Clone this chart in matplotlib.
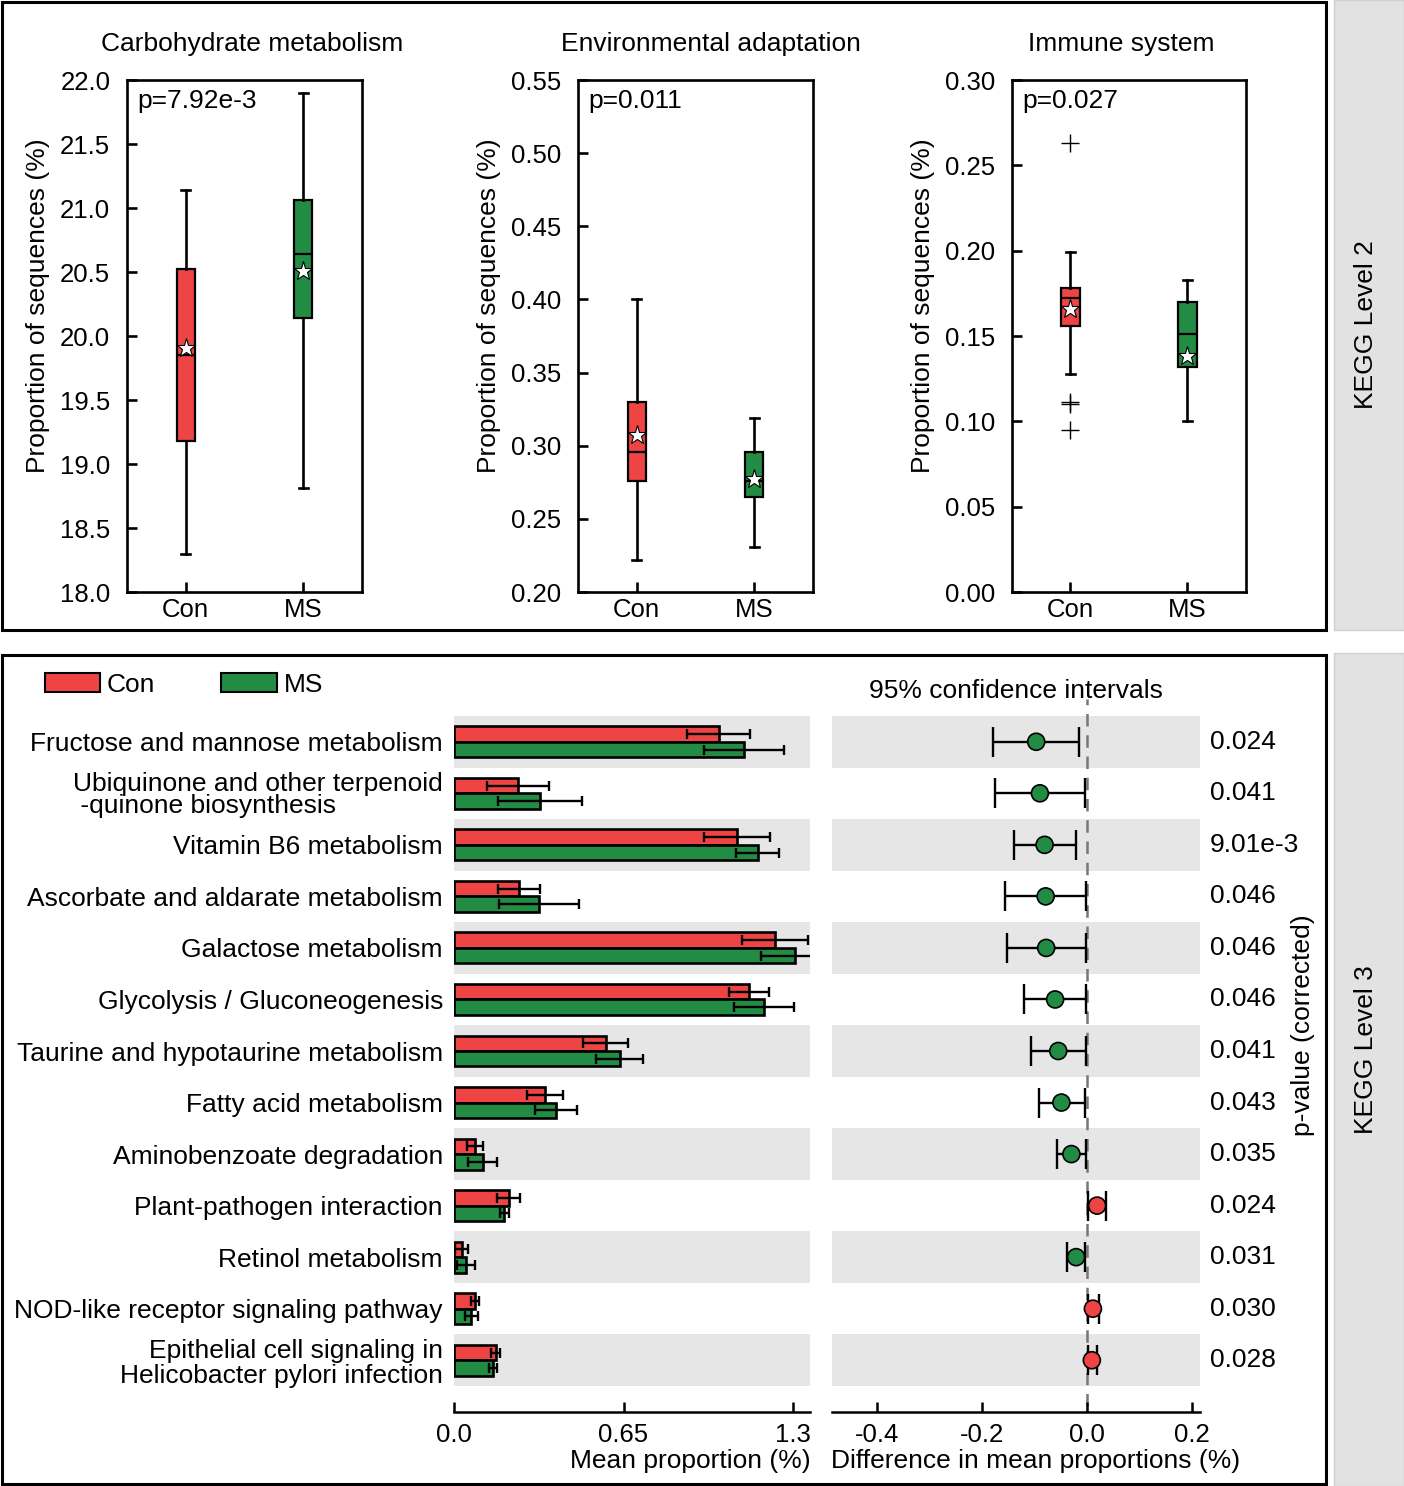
import numpy as np
import matplotlib
matplotlib.use("Agg")
import matplotlib.pyplot as plt
from matplotlib import font_manager
from matplotlib.patches import Rectangle, Patch

names = {f.name for f in font_manager.fontManager.ttflist}
narrow = 'Liberation Sans Narrow' if 'Liberation Sans Narrow' in names else 'Liberation Sans'
plt.rcParams['font.family'] = ['Liberation Sans', 'DejaVu Sans']

RED = '#EE4444'
GREEN = '#228B44'
BAND = '#e6e6e6'

# ---- KEGG level 2 boxplots ----
groups = ['Con', 'MS']
box_titles = ['Carbohydrate metabolism', 'Environmental adaptation', 'Immune system']
box_pvals = ['p=7.92e-3', 'p=0.011', 'p=0.027']
# (whislo, q1, med, q3, whishi, mean) for Con and MS
carb_con = [18.30, 19.18, 19.85, 20.52, 21.14, 19.91]
carb_ms = [18.81, 20.14, 20.64, 21.06, 21.90, 20.51]
env_con = [0.222, 0.276, 0.296, 0.330, 0.400, 0.307]
env_ms = [0.231, 0.265, 0.276, 0.296, 0.319, 0.277]
imm_con = [0.128, 0.156, 0.172, 0.178, 0.199, 0.166]
imm_ms = [0.100, 0.132, 0.151, 0.170, 0.183, 0.138]
imm_con_fliers = [0.263, 0.1115, 0.1100, 0.095]
box_data = [(carb_con, carb_ms, []), (env_con, env_ms, []), (imm_con, imm_ms, imm_con_fliers)]
box_yticks = [[18.0, 18.5, 19.0, 19.5, 20.0, 20.5, 21.0, 21.5, 22.0],
              [0.20, 0.25, 0.30, 0.35, 0.40, 0.45, 0.50, 0.55],
              [0.00, 0.05, 0.10, 0.15, 0.20, 0.25, 0.30]]
box_fmt = ['%.1f', '%.2f', '%.2f']
title_x = [0.532, 0.566, 0.466]

# ---- KEGG level 3 extended error bar ----
pathways = ['Fructose and mannose metabolism',
            'Ubiquinone and other terpenoid\n -quinone biosynthesis',
            'Vitamin B6 metabolism',
            'Ascorbate and aldarate metabolism',
            'Galactose metabolism',
            'Glycolysis / Gluconeogenesis',
            'Taurine and hypotaurine metabolism',
            'Fatty acid metabolism',
            'Aminobenzoate degradation',
            'Plant-pathogen interaction',
            'Retinol metabolism',
            'NOD-like receptor signaling pathway',
            'Epithelial cell signaling in\nHelicobacter pylori infection']
con_mean = [1.015, 0.246, 1.085, 0.250, 1.231, 1.131, 0.581, 0.349, 0.080, 0.210, 0.029, 0.080, 0.160]
con_sd = [0.120, 0.120, 0.127, 0.081, 0.127, 0.077, 0.085, 0.069, 0.032, 0.044, 0.024, 0.016, 0.018]
ms_mean = [1.112, 0.331, 1.165, 0.327, 1.308, 1.188, 0.635, 0.392, 0.110, 0.192, 0.047, 0.067, 0.151]
ms_sd = [0.154, 0.161, 0.083, 0.154, 0.131, 0.114, 0.090, 0.081, 0.055, 0.017, 0.035, 0.024, 0.015]
diff = [-0.097, -0.090, -0.081, -0.079, -0.078, -0.061, -0.055, -0.049, -0.030, 0.019, -0.021, 0.011, 0.009]
ci_low = [-0.180, -0.176, -0.140, -0.157, -0.153, -0.121, -0.106, -0.092, -0.058, 0.002, -0.038, 0.001, 0.001]
ci_high = [-0.015, -0.004, -0.022, -0.003, -0.003, -0.002, -0.003, -0.004, -0.003, 0.036, -0.004, 0.023, 0.018]
pvals = ['0.024', '0.041', '9.01e-3', '0.046', '0.046', '0.046', '0.041', '0.043',
         '0.035', '0.024', '0.031', '0.030', '0.028']

W, H = 1404, 1486
fig = plt.figure(figsize=(W / 100, H / 100), dpi=100)


def px_axes(x0, y0, x1, y1):
    return fig.add_axes([x0 / W, 1 - y1 / H, (x1 - x0) / W, (y1 - y0) / H])


# frames and side strips
fig.add_artist(Rectangle((2 / W, 1 - 630 / H), 1324 / W, 628 / H, transform=fig.transFigure,
                         fill=False, lw=2.2, ec='black'))
fig.add_artist(Rectangle((2 / W, 1 - 1484 / H), 1324 / W, 829 / H, transform=fig.transFigure,
                         fill=False, lw=2.2, ec='black'))
fig.add_artist(Rectangle((1334 / W, 1 - 630 / H), 70 / W, 630 / H, transform=fig.transFigure,
                         fc='#e2e2e2', ec='#cfcfcf', lw=1))
fig.add_artist(Rectangle((1334 / W, 0), 70 / W, 833 / H, transform=fig.transFigure,
                         fc='#e2e2e2', ec='#cfcfcf', lw=1))
fig.text(1366 / W, 1 - 325 / H, 'KEGG Level 2', rotation=90, ha='center', va='center', fontsize=19)
fig.text(1366 / W, 1 - 1050 / H, 'KEGG Level 3', rotation=90, ha='center', va='center', fontsize=19)

# ---- top boxplots ----
box_x = [(127, 362), (578, 813), (1012, 1246)]
for k in range(3):
    ax = px_axes(box_x[k][0], 80, box_x[k][1], 592)
    con, ms, fl = box_data[k]
    stats = []
    for g, v, f in [('Con', con, fl), ('MS', ms, [])]:
        stats.append(dict(whislo=v[0], q1=v[1], med=v[2], q3=v[3], whishi=v[4], mean=v[5],
                          fliers=f, label=g))
    res = ax.bxp(stats, positions=[1, 2], widths=0.156, capwidths=0.08,
                 patch_artist=True, showmeans=True,
                 boxprops=dict(lw=1.6, ec='black'),
                 medianprops=dict(color='black', lw=1.6),
                 whiskerprops=dict(color='black', lw=1.9),
                 capprops=dict(color='black', lw=1.9),
                 flierprops=dict(marker='+', markersize=13, mec='black', mew=1.0),
                 meanprops=dict(marker='*', markersize=14, mfc='white', mec='black', mew=0.8))
    for patch, c in zip(res['boxes'], [RED, GREEN]):
        patch.set_facecolor(c)
    ax.set_xlim(0.5, 2.5)
    ax.set_ylim(box_yticks[k][0], box_yticks[k][-1])
    ax.set_yticks(box_yticks[k])
    ax.set_yticklabels([box_fmt[k] % t for t in box_yticks[k]])
    ax.set_xticks([1, 2])
    ax.set_xticklabels(groups)
    for s in ax.spines.values():
        s.set_linewidth(1.9)
    ax.tick_params(axis='both', direction='in', length=7, width=1.9, labelsize=18.5)
    ax.tick_params(axis='y', pad=12)
    ax.tick_params(axis='x', pad=4)
    ax.set_ylabel('Proportion of sequences (%)', fontsize=19, labelpad=7)
    ax.yaxis.label.set_y(0.56)
    ax.set_title(box_titles[k], fontsize=19, pad=21, x=title_x[k])
    ax.text(0.045, 0.959, box_pvals[k], transform=ax.transAxes, ha='left', va='center', fontsize=19)

# ---- bottom: mean proportions ----
n = len(pathways)
rows = np.arange(n)
axb = px_axes(454, 716, 810, 1386)
axc = px_axes(832, 716, 1200, 1386)
for ax in (axb, axc):
    for i in rows:
        if i % 2 == 0:
            ax.axhspan(i - 0.5, i + 0.5, color=BAND, lw=0, zorder=0)
    ax.set_ylim(n - 0.5, -0.5)
    for s in ['left', 'right', 'top']:
        ax.spines[s].set_visible(False)
    ax.spines['bottom'].set_position(('outward', 19))
    ax.spines['bottom'].set_linewidth(1.8)
    ax.tick_params(axis='x', direction='in', length=7, width=1.8, pad=8, labelsize=18.5)

bh = 0.3
axb.barh(rows - bh / 2, con_mean, height=bh, color=RED, edgecolor='black', lw=1.9,
         xerr=con_sd, error_kw=dict(ecolor='black', elinewidth=1.7, capsize=3.5, capthick=1.7), zorder=2)
axb.barh(rows + bh / 2, ms_mean, height=bh, color=GREEN, edgecolor='black', lw=1.9,
         xerr=ms_sd, error_kw=dict(ecolor='black', elinewidth=1.7, capsize=3.5, capthick=1.7), zorder=2)
axb.set_xlim(0, 1.365)
axb.set_xticks([0, 0.65, 1.3])
axb.set_xticklabels(['0.0', '0.65', '1.3'], family=narrow)
axb.set_yticks(rows)
axb.set_yticklabels(pathways, fontsize=19, linespacing=0.92)
axb.tick_params(axis='y', length=0, pad=8)
axb.get_yticklabels()[1].set_multialignment('left')
axb.get_yticklabels()[-1].set_linespacing(1.08)

# ---- bottom: confidence intervals ----
diff_a = np.array(diff)
err = [diff_a - np.array(ci_low), np.array(ci_high) - diff_a]
axc.errorbar(diff, rows, xerr=err, fmt='none', ecolor='black', elinewidth=1.7, capsize=11,
             capthick=1.7, zorder=2)
axc.scatter(diff, rows, s=150, c=[RED if d > 0 else GREEN for d in diff], edgecolors='black',
            linewidths=1.2, zorder=3)
axc.axvline(0, ymin=-0.03, ymax=1.025, color='#777777', lw=1.8, ls=(0, (5, 3.5)), clip_on=False, zorder=1)
axc.set_xlim(-0.486, 0.215)
axc.set_xticks([-0.4, -0.2, 0.0, 0.2])
axc.set_xticklabels(['-0.4', '-0.2', '0.0', '0.2'], family=narrow)
axc.set_yticks([])
for i, p in enumerate(pvals):
    axc.text(1.027, i, p, transform=axc.get_yaxis_transform(), ha='left', va='center', fontsize=19)
axc.set_title('95% confidence intervals', fontsize=19, pad=13)

fig.text(690 / W, 1 - 1461 / H, 'Mean proportion (%)', ha='center', va='center', fontsize=19, family=narrow)
fig.text(1036 / W, 1 - 1461 / H, 'Difference in mean proportions (%)', ha='center', va='center',
         fontsize=19, family=narrow)
fig.text(1303 / W, 1 - 1025 / H, 'p-value (corrected)', rotation=90, ha='center', va='center', fontsize=19)

fig.legend(handles=[Patch(fc=RED, ec='black', lw=1.5, label='Con'),
                    Patch(fc=GREEN, ec='black', lw=1.5, label='MS')],
           loc='center left', bbox_to_anchor=(45 / W, 1 - 685 / H), ncol=2, frameon=False,
           fontsize=19, handlelength=2.1, handleheight=0.75, handletextpad=0.25,
           columnspacing=2.5, borderaxespad=0, borderpad=0)

fig.savefig('out.png', dpi=100)
